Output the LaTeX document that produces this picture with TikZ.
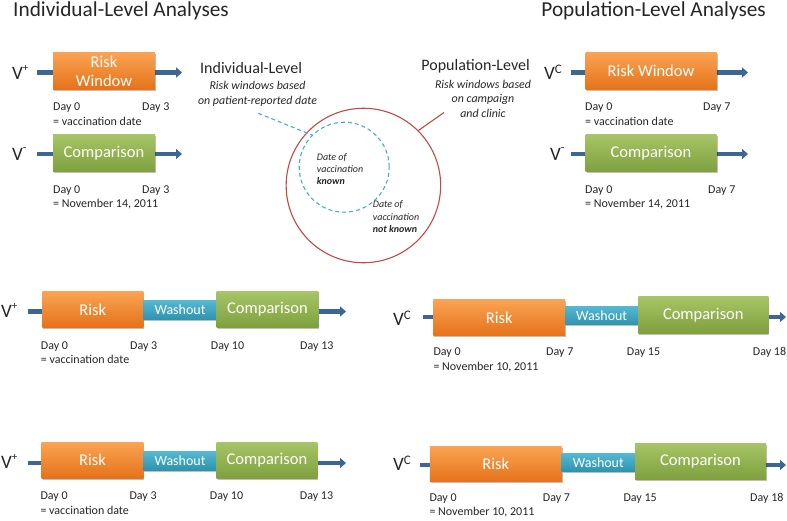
\documentclass[tikz,border=0pt]{standalone}
\usepackage{fontspec}
\setmainfont{Carlito}
\usetikzlibrary{arrows.meta,shadows}
\definecolor{arrblue}{HTML}{3C6693}
\definecolor{orT}{HTML}{FAA352}
\definecolor{orB}{HTML}{E5721A}
\definecolor{grT}{HTML}{A6C566}
\definecolor{grB}{HTML}{7FA03E}
\definecolor{waT}{HTML}{55B8D2}
\definecolor{waB}{HTML}{2F93AE}
\definecolor{redc}{HTML}{BE4B48}
\definecolor{cyanc}{HTML}{4BACC6}
\definecolor{txt}{HTML}{262626}
\begin{document}
\begin{tikzpicture}[x=1pt,y=-1pt,
  every node/.style={inner sep=0pt, text=txt},
  box/.style={draw=none, inner sep=0pt, text=white, align=center,
    font=\fontsize{16.5}{19}\selectfont,
    drop shadow={opacity=0.25, shadow xshift=1pt, shadow yshift=-1.5pt, fill=black}},
  orbox/.style={box, top color=orT, bottom color=orB},
  grbox/.style={box, top color=grT, bottom color=grB},
  wabox/.style={box, top color=waT, bottom color=waB, font=\fontsize{14}{16}\selectfont},
  timeline/.style={draw=arrblue, line width=4.5pt, -{Triangle[length=6pt,width=10pt]}},
  vlab/.style={anchor=west, font=\fontsize{19}{21}\selectfont},
  day/.style={anchor=west, font=\fontsize{12}{14}\selectfont, text height=0.7em, text depth=0.2em},
  title/.style={anchor=base west, font=\fontsize{21.3}{24}\selectfont},
  head/.style={font=\fontsize{16}{18}\selectfont},
  note/.style={font=\itshape\fontsize{11.9}{14.2}\selectfont, align=center, anchor=base},
  cnote/.style={font=\itshape\fontsize{10}{12.2}\selectfont, align=left, anchor=base west}
]
\useasboundingbox (0,0) rectangle (787,520);
\newcommand{\Vp}{V\raisebox{0.42em}{\fontsize{11}{11}\selectfont +}}
\newcommand{\Vm}{V\raisebox{0.5em}{\fontsize{12}{12}\selectfont -}}
\newcommand{\Vc}{V\raisebox{0.33em}{\fontsize{13}{13}\selectfont C}}

% titles
\node[title] (t1) at (13,16.7) {Individual-Level Analyses};
\node[title, anchor=base east] (t2) at (766,16.7) {Population-Level Analyses};

% ---- top-left rows
\node[vlab] (v1) at (12,72) {\Vp};
\node[vlab] (v2) at (12,154) {\Vm};
\coordinate (a1s) at (37,72.5); \coordinate (a1e) at (182,72.5);
\coordinate (a2s) at (37,154); \coordinate (a2e) at (182,154);
\draw[timeline] (a1s) -- (a1e);
\draw[timeline] (a2s) -- (a2e);
\node[orbox, minimum width=102pt, minimum height=37pt] (r1) at (104,71) {Risk\\Window};
\node[grbox, minimum width=102pt, minimum height=37pt] (c1) at (104,153.3) {Comparison};
\node[day] (d10) at (53,108) {Day 0};
\node[day] (d13) at (142,108) {Day 3};
\node[day] (d1e) at (53,122.5) {= vaccination date};
\node[day] (d20) at (53,190.5) {Day 0};
\node[day] (d23) at (142,190.5) {Day 3};
\node[day] (d2e) at (53,205) {= November 14, 2011};

% ---- top-right rows
\node[vlab] (v3) at (544,72) {\Vc};
\node[vlab] (v4) at (550,154) {\Vm};
\coordinate (a3s) at (571,72.5); \coordinate (a3e) at (748,72.5);
\coordinate (a4s) at (571,154); \coordinate (a4e) at (748,154);
\draw[timeline] (a3s) -- (a3e);
\draw[timeline] (a4s) -- (a4e);
\node[orbox, minimum width=131pt, minimum height=37pt] (r2) at (651,71) {Risk Window};
\node[grbox, minimum width=131pt, minimum height=37pt] (c2) at (651,153.3) {Comparison};
\node[day] (d30) at (585,108) {Day 0};
\node[day] (d37) at (703,108) {Day 7};
\node[day] (d3e) at (585,122.5) {= vaccination date};
\node[day] (d40) at (585,190.5) {Day 0};
\node[day] (d47) at (708,190.5) {Day 7};
\node[day] (d4e) at (585,205) {= November 14, 2011};

% ---- centre
\node[head, anchor=base west] (il) at (200,73.5) {Individual-Level};
\node[note] (iln) at (257.5,104) {Risk windows based\\on patient-reported date};
\node[head, anchor=base east] (pl) at (530,70.5) {Population-Level};
\node[note] (pln) at (483,117) {Risk windows based\\on campaign\\and clinic};

\node[circle, draw=redc, line width=1.1pt, minimum size=154.5pt] (pop) at (363.4,185.5) {};
\node[circle, draw=cyanc, line width=1.1pt, dash pattern=on 4pt off 3pt, minimum size=90pt] (ind) at (344.2,167.2) {};
\coordinate (cl) at (258.3,113.3);
\coordinate (rl) at (444,112.5);
\draw[cyanc, line width=1.1pt, dash pattern=on 4pt off 3pt] (cl) -- (ind.135);
\draw[redc, line width=1.1pt] (rl) -- (pop.45);
\node[cnote] (k1) at (316.7,184.7) {Date of\\vaccination\\\textbf{known}};
\node[cnote] (k2) at (372.7,232.3) {Date of\\vaccination\\\textbf{not known}};

% ---- row 3 left
\node[vlab] (v5) at (1,310) {\Vp};
\coordinate (a5s) at (28,311.5); \coordinate (a5e) at (346,311.5);
\draw[timeline] (a5s) -- (a5e);
\node[orbox, minimum width=101pt, minimum height=35.6pt] (r3) at (92.8,309.5) {Risk};
\node[wabox, minimum width=73.4pt, minimum height=18.6pt] (w3) at (180,310) {Washout};
\node[grbox, minimum width=101.6pt, minimum height=35.6pt] (c3) at (267.5,309.5) {Comparison};
\node[day] (d50) at (40.7,346.7) {Day 0};
\node[day] (d53) at (130,346.7) {Day 3};
\node[day] (d510) at (210.7,346.7) {Day 10};
\node[day] (d513) at (300,346.7) {Day 13};
\node[day] (d5e) at (40.7,360.7) {= vaccination date};

% ---- row 4 left
\node[vlab] (v6) at (1,461.7) {\Vp};
\coordinate (a6s) at (28,463); \coordinate (a6e) at (346,463);
\draw[timeline] (a6s) -- (a6e);
\node[orbox, minimum width=101.6pt, minimum height=36pt] (r4) at (92.5,460.3) {Risk};
\node[wabox, minimum width=73.4pt, minimum height=18.4pt] (w4) at (180,460.8) {Washout};
\node[grbox, minimum width=100.6pt, minimum height=36pt] (c4) at (267,460.3) {Comparison};
\node[day] (d60) at (40.3,497.3) {Day 0};
\node[day] (d63) at (129.3,497.3) {Day 3};
\node[day] (d610) at (209.7,497.3) {Day 10};
\node[day] (d613) at (299.7,497.3) {Day 13};
\node[day] (d6e) at (40.3,511.7) {= vaccination date};

% ---- row 3 right
\node[vlab] (v7) at (393,318) {\Vc};
\coordinate (a7s) at (423,317); \coordinate (a7e) at (786,317);
\draw[timeline] (a7s) -- (a7e);
\node[orbox, minimum width=131.7pt, minimum height=35.7pt] (r5) at (499.2,317.8) {Risk};
\node[wabox, minimum width=73.3pt, minimum height=18.3pt] (w5) at (601.7,315.8) {Washout};
\node[grbox, minimum width=130pt, minimum height=36.6pt] (c5) at (703.3,315) {Comparison};
\node[day] (d70) at (433.3,353.3) {Day 0};
\node[day] (d77) at (546,353.3) {Day 7};
\node[day] (d715) at (626.7,353.3) {Day 15};
\node[day] (d718) at (752.7,353.3) {Day 18};
\node[day] (d7e) at (433.3,368.3) {= November 10, 2011};

% ---- row 4 right
\node[vlab] (v8) at (393,463) {\Vc};
\coordinate (a8s) at (420,465); \coordinate (a8e) at (786,465);
\draw[timeline] (a8s) -- (a8e);
\node[orbox, minimum width=131.7pt, minimum height=35pt] (r6) at (495.8,464.2) {Risk};
\node[wabox, minimum width=73.3pt, minimum height=18.4pt] (w6) at (598.3,462.5) {Washout};
\node[grbox, minimum width=131pt, minimum height=36pt] (c6) at (700.5,461.3) {Comparison};
\node[day] (d80) at (429.3,499.3) {Day 0};
\node[day] (d87) at (542.7,499.3) {Day 7};
\node[day] (d815) at (623.3,499.3) {Day 15};
\node[day] (d818) at (750,499.3) {Day 18};
\node[day] (d8e) at (429.3,512.7) {= November 10, 2011};
\end{tikzpicture}
\end{document}
